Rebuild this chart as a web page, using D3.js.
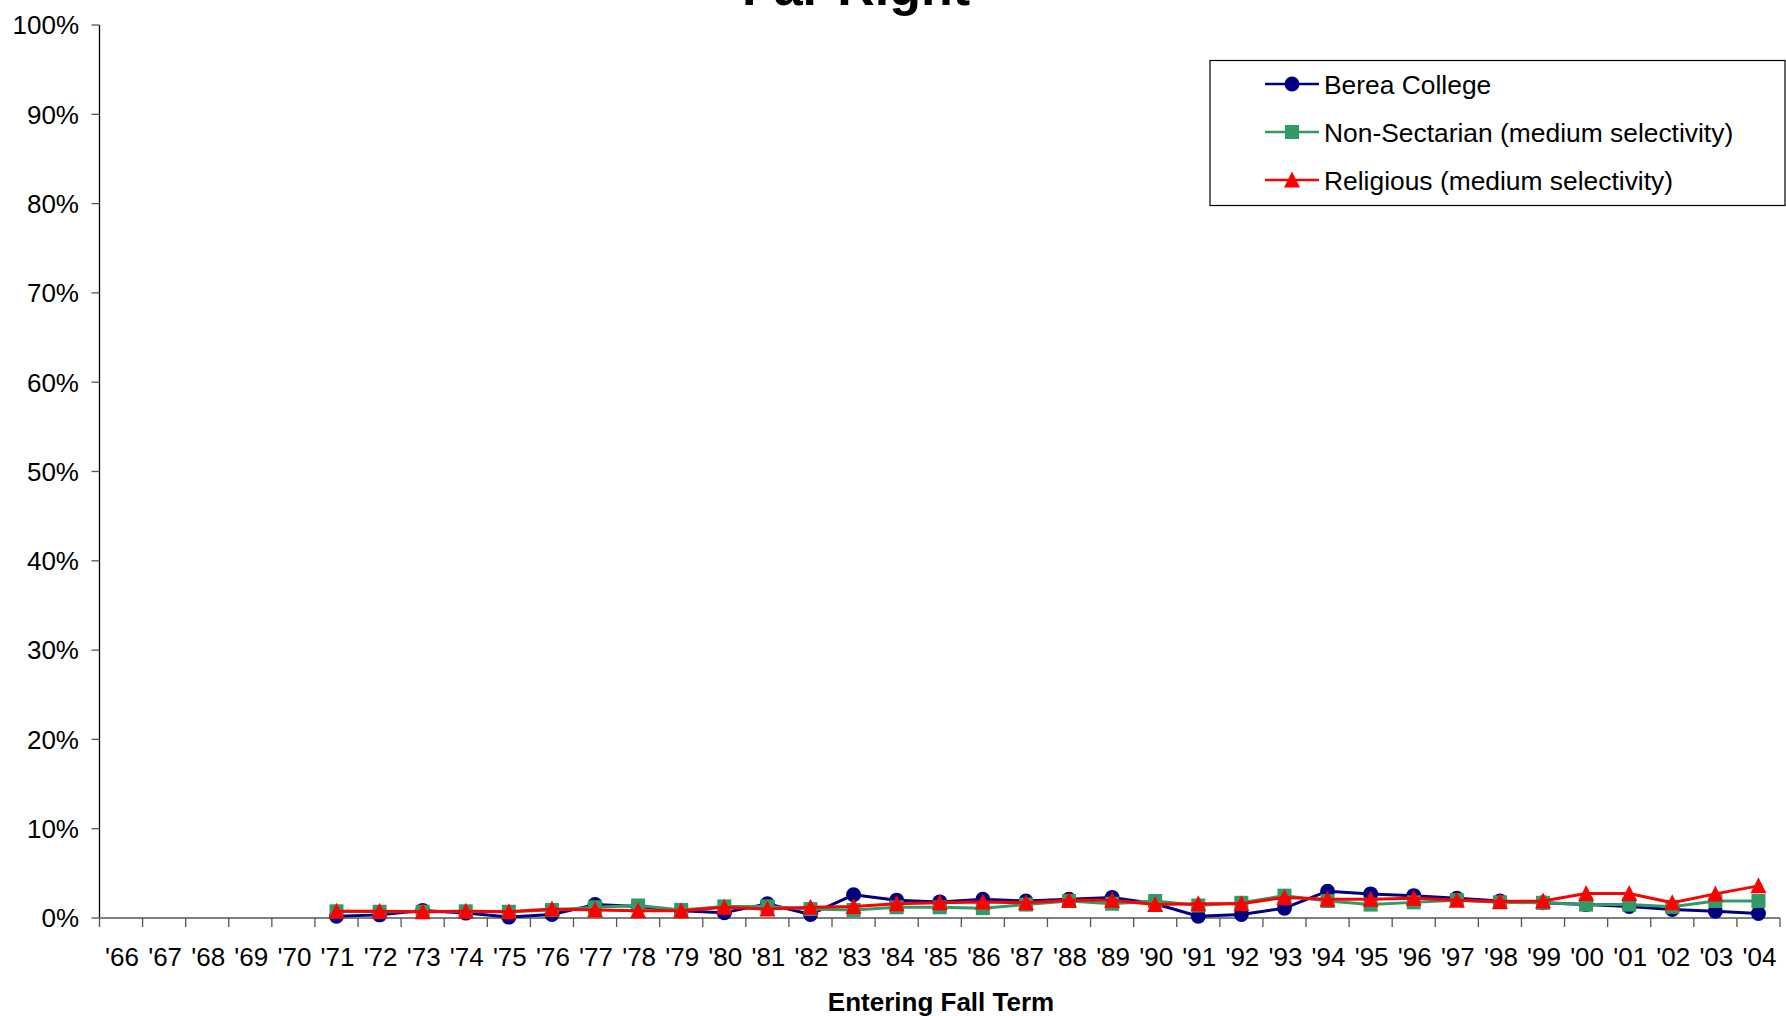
<!DOCTYPE html>
<html><head><meta charset="utf-8">
<script src="https://cdn.jsdelivr.net/npm/d3@7"></script>
<style>
html,body{margin:0;padding:0;background:#fff;}
svg{display:block;font-family:"Liberation Sans",Arial,sans-serif;}
</style></head>
<body>
<svg id="chart" width="1786" height="1016"></svg>
<script>
const categories = ["'66","'67","'68","'69","'70","'71","'72","'73","'74","'75","'76","'77","'78","'79","'80","'81","'82","'83","'84","'85","'86","'87","'88","'89","'90","'91","'92","'93","'94","'95","'96","'97","'98","'99","'00","'01","'02","'03","'04"];
const bereaCollege = [null,null,null,null,null,0.2,0.35,0.85,0.55,0.1,0.4,1.5,1.3,0.8,0.6,1.6,0.4,2.6,2.0,1.8,2.1,1.9,2.1,2.3,1.6,0.2,0.4,1.1,3.0,2.7,2.5,2.2,1.9,1.7,1.5,1.3,0.95,0.75,0.5];
const nonSectarian = [null,null,null,null,null,0.75,0.7,0.7,0.75,0.7,0.9,1.2,1.4,0.9,1.3,1.3,1.0,0.9,1.2,1.2,1.1,1.5,1.9,1.6,1.9,1.4,1.7,2.5,1.9,1.5,1.75,2.0,1.75,1.7,1.5,1.5,1.25,1.9,1.9];
const religious = [null,null,null,null,null,0.75,0.75,0.7,0.75,0.7,1.0,0.9,0.8,0.8,1.2,1.0,1.2,1.3,1.6,1.7,1.8,1.7,2.0,2.0,1.5,1.6,1.6,2.3,2.1,2.1,2.2,2.0,1.85,1.9,2.75,2.75,1.7,2.7,3.6];
const yTicks = [0,10,20,30,40,50,60,70,80,90,100];
const seriesNames = ["Berea College","Non-Sectarian (medium selectivity)","Religious (medium selectivity)"];
const titleText = "Far Right";
const xTitleText = "Entering Fall Term";

const series = [
  {name: seriesNames[0], values: bereaCollege, color: "#000080", marker: "circle"},
  {name: seriesNames[1], values: nonSectarian, color: "#339966", marker: "square"},
  {name: seriesNames[2], values: religious, color: "#FF0000", marker: "triangle"}
];

const svg = d3.select("#chart");
const plotL = 99.5, plotR = 1780, plotT = 25, plotB = 918;

const x = d3.scaleBand().domain(categories).range([plotL, plotR]).paddingInner(0).paddingOuter(0);
const y = d3.scaleLinear().domain([0, 100]).range([plotB, plotT]);
const cx = c => x(c) + x.bandwidth() / 2;

// Title
svg.append("text").attr("x", 856).attr("y", 5).attr("text-anchor", "middle")
  .attr("font-size", 52).attr("font-weight", "bold").attr("fill", "#000").text(titleText);

// Y axis
const gy = svg.append("g");
gy.append("line").attr("x1", plotL).attr("x2", plotL).attr("y1", y(100)).attr("y2", y(0))
  .attr("stroke", "#000").attr("stroke-width", 1.3);
gy.selectAll("line.tick").data(yTicks).enter().append("line").attr("class","tick")
  .attr("x1", plotL - 8).attr("x2", plotL).attr("y1", d => y(d)).attr("y2", d => y(d))
  .attr("stroke", "#555").attr("stroke-width", 1.3);
gy.selectAll("text").data(yTicks).enter().append("text")
  .attr("x", 79).attr("y", d => y(d)).attr("dy", "0.36em").attr("text-anchor", "end")
  .attr("font-size", 26).attr("fill", "#000").text(d => d + "%");

// X axis
const gx = svg.append("g");
gx.append("line").attr("x1", plotL).attr("x2", plotR).attr("y1", plotB).attr("y2", plotB)
  .attr("stroke", "#808080").attr("stroke-width", 2);
const boundaries = categories.map(c => x(c)).concat([x(categories[categories.length-1]) + x.bandwidth()]);
gx.selectAll("line.tick").data(boundaries).enter().append("line").attr("class","tick")
  .attr("x1", d => d).attr("x2", d => d).attr("y1", plotB).attr("y2", plotB + 9)
  .attr("stroke", "#555").attr("stroke-width", 1.3);
gx.selectAll("text").data(categories).enter().append("text")
  .attr("x", d => cx(d) + 1).attr("y", 966).attr("text-anchor", "middle")
  .attr("font-size", 26).attr("fill", "#000").text(d => d);

svg.append("text").attr("x", 941).attr("y", 1011).attr("text-anchor", "middle")
  .attr("font-size", 26).attr("font-weight", "bold").attr("fill", "#000").text(xTitleText);

// markers
function drawMarker(g, type, color, px, py) {
  if (type === "circle") {
    g.append("circle").attr("cx", px).attr("cy", py).attr("r", 7.5).attr("fill", color);
  } else if (type === "square") {
    g.append("rect").attr("x", px - 7).attr("y", py - 7).attr("width", 14).attr("height", 14).attr("fill", color);
  } else {
    g.append("path").attr("d", `M${px},${py-8.5} L${px+8},${py+7.5} L${px-8},${py+7.5} Z`).attr("fill", color);
  }
}

const line = d3.line().defined(d => d.v !== null).x(d => cx(d.c)).y(d => y(d.v));
series.forEach(s => {
  const g = svg.append("g");
  const pts = categories.map((c, i) => ({c, v: s.values[i]}));
  g.append("path").datum(pts).attr("d", line).attr("fill", "none")
    .attr("stroke", s.color).attr("stroke-width", 3).attr("stroke-linejoin", "round");
  pts.filter(p => p.v !== null).forEach(p => drawMarker(g, s.marker, s.color, cx(p.c), y(p.v)));
});

// Legend
const lg = svg.append("g");
lg.append("rect").attr("x", 1210).attr("y", 60.5).attr("width", 575).attr("height", 145)
  .attr("fill", "#fff").attr("stroke", "#000").attr("stroke-width", 1.2);
const rowsY = [84, 132, 180];
series.forEach((s, i) => {
  lg.append("line").attr("x1", 1265).attr("x2", 1319).attr("y1", rowsY[i]).attr("y2", rowsY[i])
    .attr("stroke", s.color).attr("stroke-width", 2.5);
  drawMarker(lg, s.marker, s.color, 1292, rowsY[i]);
  lg.append("text").attr("x", 1324).attr("y", rowsY[i]).attr("dy", "0.36em")
    .attr("font-size", 26.4).attr("fill", "#000").text(s.name);
});
</script>
</body></html>
